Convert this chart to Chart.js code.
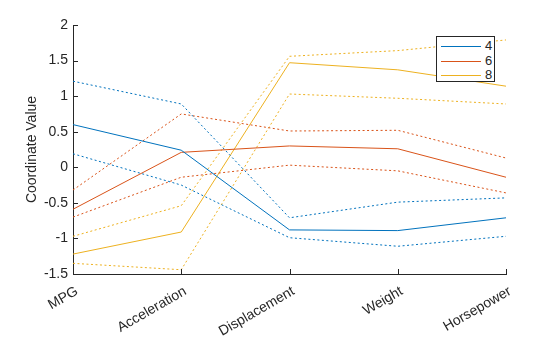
<!DOCTYPE html>
<html>
<head>
<meta charset="utf-8">
<script src="https://cdn.jsdelivr.net/npm/chart.js@4"></script>
<style>
  html, body { margin: 0; padding: 0; background: #fff; }
  #wrap { position: relative; width: 560px; height: 337px; }
  #legend {
    position: absolute; left: 436px; top: 36px; width: 57px; height: 44px;
    border: 1px solid #262626; background: #fff;
    font-family: "Liberation Sans", Arial, sans-serif; font-size: 13px; color: #262626;
  }
  .lg-row { position: absolute; left: 4px; height: 14px; width: 52px; }
  .lg-line { position: absolute; left: 0; top: 7px; width: 40px; height: 1px; }
  .lg-text { position: absolute; left: 44px; top: -1px; line-height: 15px; }
</style>
</head>
<body>
<div id="wrap">
  <canvas id="c" width="560" height="337"></canvas>
  <div id="legend"></div>
</div>
<script>
// ---- data ----
const categories = ["MPG", "Acceleration", "Displacement", "Weight", "Horsepower"];
const groups = ["4", "6", "8"];
const groupColors = ["#0072BD", "#D95319", "#EDB120"];

const median4 = [0.60, 0.24, -0.88, -0.89, -0.71];
const upper4  = [1.21, 0.89, -0.71, -0.49, -0.43];
const lower4  = [0.19, -0.25, -0.99, -1.11, -0.97];

const median6 = [-0.59, 0.21, 0.30, 0.26, -0.14];
const upper6  = [-0.32, 0.75, 0.51, 0.52, 0.13];
const lower6  = [-0.70, -0.14, 0.03, -0.05, -0.36];

const median8 = [-1.22, -0.91, 1.47, 1.37, 1.14];
const upper8  = [-0.97, -0.54, 1.56, 1.64, 1.79];
const lower8  = [-1.35, -1.44, 1.03, 0.97, 0.89];

const yTicks = [-1.5, -1, -0.5, 0, 0.5, 1, 1.5, 2];

// ---- build ----
const medians = [median4, median6, median8];
const uppers = [upper4, upper6, upper8];
const lowers = [lower4, lower6, lower8];

const datasets = [];
groups.forEach((g, i) => {
  datasets.push({ label: g, data: medians[i], borderColor: groupColors[i], borderWidth: 1, pointRadius: 0, fill: false, tension: 0 });
  datasets.push({ label: g + " upper", data: uppers[i], borderColor: groupColors[i], borderWidth: 1, borderDash: [2, 2.5], pointRadius: 0, fill: false, tension: 0 });
  datasets.push({ label: g + " lower", data: lowers[i], borderColor: groupColors[i], borderWidth: 1, borderDash: [2, 2.5], pointRadius: 0, fill: false, tension: 0 });
});

// legend (HTML text)
const legendEl = document.getElementById('legend');
groups.forEach((g, i) => {
  const row = document.createElement('div');
  row.className = 'lg-row';
  row.style.top = (2 + i * 14.5) + 'px';
  row.innerHTML = '<div class="lg-line" style="background:' + groupColors[i] + '"></div><div class="lg-text">' + g + '</div>';
  legendEl.appendChild(row);
});

const inwardTicks = {
  id: 'inwardTicks',
  afterDraw(chart) {
    const ctx = chart.ctx;
    const x = chart.scales.x, y = chart.scales.y;
    ctx.save();
    ctx.strokeStyle = '#262626';
    ctx.lineWidth = 1;
    ctx.beginPath();
    for (let i = 0; i < categories.length; i++) {
      const px = Math.round(x.getPixelForValue(i)) + 0.5;
      ctx.moveTo(px, y.bottom);
      ctx.lineTo(px, y.bottom - 5);
    }
    yTicks.forEach(v => {
      const py = Math.round(y.getPixelForValue(v)) + 0.5;
      ctx.moveTo(x.left, py);
      ctx.lineTo(x.left + 5, py);
    });
    ctx.stroke();
    ctx.restore();
  }
};

const font = { family: "'Liberation Sans', Arial, sans-serif", size: 14 };

new Chart(document.getElementById('c'), {
  type: 'line',
  data: { labels: categories, datasets },
  options: {
    responsive: false,
    animation: false,
    events: [],
    layout: { padding: { top: 25, right: 54, left: 24, bottom: 0 } },
    plugins: { legend: { display: false }, tooltip: { enabled: false } },
    scales: {
      x: {
        type: 'category',
        offset: false,
        grid: { display: false, drawTicks: false },
        border: { display: true, color: '#262626', width: 1 },
        ticks: { color: '#262626', font, maxRotation: 30, minRotation: 30, padding: 9, labelOffset: 4 },
        afterFit(s) { s.height = 63; }
      },
      y: {
        min: -1.5, max: 2,
        afterBuildTicks(s) { s.ticks = yTicks.map(v => ({ value: v })); },
        grid: { display: false, drawTicks: false },
        border: { display: true, color: '#262626', width: 1 },
        ticks: { color: '#262626', font, padding: 5, callback: v => String(v) },
        title: { display: true, text: 'Coordinate Value', color: '#262626', font: { family: font.family, size: 14 }, padding: { top: 0, bottom: 0 } },
        afterFit(s) { s.width = 49; }
      }
    }
  },
  plugins: [inwardTicks]
});
</script>
</body>
</html>
